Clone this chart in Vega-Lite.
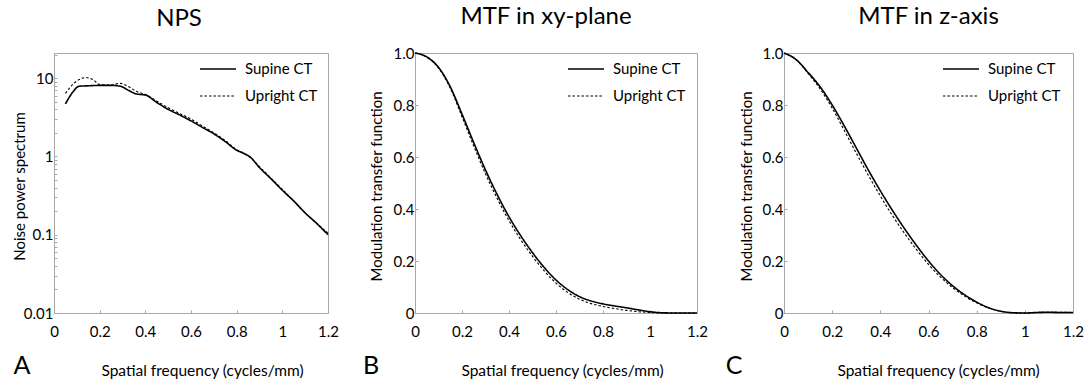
{
  "$schema": "https://vega.github.io/schema/vega-lite/v6.json",
  "padding": {"left": 11, "top": 4, "right": 5, "bottom": 0},
  "background": "white",
  "spacing": 87,
  "bounds": "flush",
  "datasets": {
    "nps": [
      {"f": 0.05, "v": 4.7, "ct": "Supine CT"}, {"f": 0.08, "v": 6.5, "ct": "Supine CT"}, {"f": 0.11, "v": 7.9, "ct": "Supine CT"}, {"f": 0.15, "v": 8.0, "ct": "Supine CT"}, {"f": 0.2, "v": 8.1, "ct": "Supine CT"}, {"f": 0.25, "v": 8.1, "ct": "Supine CT"}, {"f": 0.29, "v": 7.9, "ct": "Supine CT"}, {"f": 0.33, "v": 6.9, "ct": "Supine CT"}, {"f": 0.36, "v": 6.3, "ct": "Supine CT"}, {"f": 0.4, "v": 6.1, "ct": "Supine CT"}, {"f": 0.45, "v": 4.9, "ct": "Supine CT"}, {"f": 0.5, "v": 4.0, "ct": "Supine CT"}, {"f": 0.55, "v": 3.4, "ct": "Supine CT"}, {"f": 0.6, "v": 2.85, "ct": "Supine CT"}, {"f": 0.65, "v": 2.35, "ct": "Supine CT"}, {"f": 0.7, "v": 1.95, "ct": "Supine CT"}, {"f": 0.75, "v": 1.55, "ct": "Supine CT"}, {"f": 0.8, "v": 1.2, "ct": "Supine CT"}, {"f": 0.83, "v": 1.1, "ct": "Supine CT"}, {"f": 0.86, "v": 0.98, "ct": "Supine CT"}, {"f": 0.9, "v": 0.72, "ct": "Supine CT"}, {"f": 0.95, "v": 0.52, "ct": "Supine CT"}, {"f": 1.0, "v": 0.37, "ct": "Supine CT"}, {"f": 1.05, "v": 0.27, "ct": "Supine CT"}, {"f": 1.1, "v": 0.19, "ct": "Supine CT"}, {"f": 1.15, "v": 0.14, "ct": "Supine CT"}, {"f": 1.2, "v": 0.1, "ct": "Supine CT"},
      {"f": 0.05, "v": 6.4, "ct": "Upright CT"}, {"f": 0.08, "v": 8.2, "ct": "Upright CT"}, {"f": 0.11, "v": 9.6, "ct": "Upright CT"}, {"f": 0.14, "v": 10.2, "ct": "Upright CT"}, {"f": 0.17, "v": 9.6, "ct": "Upright CT"}, {"f": 0.2, "v": 8.3, "ct": "Upright CT"}, {"f": 0.25, "v": 8.2, "ct": "Upright CT"}, {"f": 0.29, "v": 8.6, "ct": "Upright CT"}, {"f": 0.32, "v": 8.0, "ct": "Upright CT"}, {"f": 0.36, "v": 6.8, "ct": "Upright CT"}, {"f": 0.4, "v": 6.2, "ct": "Upright CT"}, {"f": 0.45, "v": 5.1, "ct": "Upright CT"}, {"f": 0.5, "v": 4.2, "ct": "Upright CT"}, {"f": 0.55, "v": 3.55, "ct": "Upright CT"}, {"f": 0.6, "v": 3.0, "ct": "Upright CT"}, {"f": 0.65, "v": 2.45, "ct": "Upright CT"}, {"f": 0.7, "v": 2.0, "ct": "Upright CT"}, {"f": 0.75, "v": 1.6, "ct": "Upright CT"}, {"f": 0.8, "v": 1.22, "ct": "Upright CT"}, {"f": 0.83, "v": 1.1, "ct": "Upright CT"}, {"f": 0.86, "v": 0.97, "ct": "Upright CT"}, {"f": 0.9, "v": 0.74, "ct": "Upright CT"}, {"f": 0.95, "v": 0.53, "ct": "Upright CT"}, {"f": 1.0, "v": 0.38, "ct": "Upright CT"}, {"f": 1.05, "v": 0.27, "ct": "Upright CT"}, {"f": 1.1, "v": 0.19, "ct": "Upright CT"}, {"f": 1.15, "v": 0.14, "ct": "Upright CT"}, {"f": 1.2, "v": 0.105, "ct": "Upright CT"}
    ],
    "mtfxy": [
      {"f": 0, "v": 1.0, "ct": "Supine CT"}, {"f": 0.05, "v": 0.985, "ct": "Supine CT"}, {"f": 0.1, "v": 0.945, "ct": "Supine CT"}, {"f": 0.15, "v": 0.87, "ct": "Supine CT"}, {"f": 0.2, "v": 0.765, "ct": "Supine CT"}, {"f": 0.25, "v": 0.655, "ct": "Supine CT"}, {"f": 0.3, "v": 0.55, "ct": "Supine CT"}, {"f": 0.35, "v": 0.455, "ct": "Supine CT"}, {"f": 0.4, "v": 0.37, "ct": "Supine CT"}, {"f": 0.45, "v": 0.297, "ct": "Supine CT"}, {"f": 0.5, "v": 0.232, "ct": "Supine CT"}, {"f": 0.55, "v": 0.175, "ct": "Supine CT"}, {"f": 0.6, "v": 0.127, "ct": "Supine CT"}, {"f": 0.65, "v": 0.09, "ct": "Supine CT"}, {"f": 0.7, "v": 0.063, "ct": "Supine CT"}, {"f": 0.75, "v": 0.046, "ct": "Supine CT"}, {"f": 0.8, "v": 0.035, "ct": "Supine CT"}, {"f": 0.85, "v": 0.027, "ct": "Supine CT"}, {"f": 0.9, "v": 0.02, "ct": "Supine CT"}, {"f": 0.95, "v": 0.012, "ct": "Supine CT"}, {"f": 1.0, "v": 0.005, "ct": "Supine CT"}, {"f": 1.05, "v": 0.001, "ct": "Supine CT"}, {"f": 1.1, "v": 0.0, "ct": "Supine CT"}, {"f": 1.2, "v": 0.0, "ct": "Supine CT"},
      {"f": 0, "v": 1.0, "ct": "Upright CT"}, {"f": 0.05, "v": 0.984, "ct": "Upright CT"}, {"f": 0.1, "v": 0.942, "ct": "Upright CT"}, {"f": 0.15, "v": 0.865, "ct": "Upright CT"}, {"f": 0.2, "v": 0.755, "ct": "Upright CT"}, {"f": 0.25, "v": 0.642, "ct": "Upright CT"}, {"f": 0.3, "v": 0.535, "ct": "Upright CT"}, {"f": 0.35, "v": 0.44, "ct": "Upright CT"}, {"f": 0.4, "v": 0.355, "ct": "Upright CT"}, {"f": 0.45, "v": 0.282, "ct": "Upright CT"}, {"f": 0.5, "v": 0.218, "ct": "Upright CT"}, {"f": 0.55, "v": 0.162, "ct": "Upright CT"}, {"f": 0.6, "v": 0.115, "ct": "Upright CT"}, {"f": 0.65, "v": 0.079, "ct": "Upright CT"}, {"f": 0.7, "v": 0.053, "ct": "Upright CT"}, {"f": 0.75, "v": 0.036, "ct": "Upright CT"}, {"f": 0.8, "v": 0.025, "ct": "Upright CT"}, {"f": 0.85, "v": 0.017, "ct": "Upright CT"}, {"f": 0.9, "v": 0.01, "ct": "Upright CT"}, {"f": 0.95, "v": 0.005, "ct": "Upright CT"}, {"f": 1.0, "v": 0.002, "ct": "Upright CT"}, {"f": 1.05, "v": 0.0, "ct": "Upright CT"}, {"f": 1.2, "v": 0.0, "ct": "Upright CT"}
    ],
    "mtfz": [
      {"f": 0, "v": 1.0, "ct": "Supine CT"}, {"f": 0.05, "v": 0.975, "ct": "Supine CT"}, {"f": 0.1, "v": 0.925, "ct": "Supine CT"}, {"f": 0.15, "v": 0.87, "ct": "Supine CT"}, {"f": 0.2, "v": 0.8, "ct": "Supine CT"}, {"f": 0.25, "v": 0.72, "ct": "Supine CT"}, {"f": 0.3, "v": 0.635, "ct": "Supine CT"}, {"f": 0.35, "v": 0.55, "ct": "Supine CT"}, {"f": 0.4, "v": 0.47, "ct": "Supine CT"}, {"f": 0.45, "v": 0.395, "ct": "Supine CT"}, {"f": 0.5, "v": 0.325, "ct": "Supine CT"}, {"f": 0.55, "v": 0.26, "ct": "Supine CT"}, {"f": 0.6, "v": 0.2, "ct": "Supine CT"}, {"f": 0.65, "v": 0.148, "ct": "Supine CT"}, {"f": 0.7, "v": 0.105, "ct": "Supine CT"}, {"f": 0.75, "v": 0.07, "ct": "Supine CT"}, {"f": 0.8, "v": 0.042, "ct": "Supine CT"}, {"f": 0.85, "v": 0.02, "ct": "Supine CT"}, {"f": 0.9, "v": 0.007, "ct": "Supine CT"}, {"f": 0.95, "v": 0.001, "ct": "Supine CT"}, {"f": 1.0, "v": 0.0, "ct": "Supine CT"}, {"f": 1.05, "v": 0.002, "ct": "Supine CT"}, {"f": 1.1, "v": 0.003, "ct": "Supine CT"}, {"f": 1.15, "v": 0.002, "ct": "Supine CT"}, {"f": 1.2, "v": 0.002, "ct": "Supine CT"},
      {"f": 0, "v": 1.0, "ct": "Upright CT"}, {"f": 0.05, "v": 0.974, "ct": "Upright CT"}, {"f": 0.1, "v": 0.922, "ct": "Upright CT"}, {"f": 0.15, "v": 0.862, "ct": "Upright CT"}, {"f": 0.2, "v": 0.788, "ct": "Upright CT"}, {"f": 0.25, "v": 0.703, "ct": "Upright CT"}, {"f": 0.3, "v": 0.615, "ct": "Upright CT"}, {"f": 0.35, "v": 0.53, "ct": "Upright CT"}, {"f": 0.4, "v": 0.45, "ct": "Upright CT"}, {"f": 0.45, "v": 0.375, "ct": "Upright CT"}, {"f": 0.5, "v": 0.307, "ct": "Upright CT"}, {"f": 0.55, "v": 0.244, "ct": "Upright CT"}, {"f": 0.6, "v": 0.187, "ct": "Upright CT"}, {"f": 0.65, "v": 0.138, "ct": "Upright CT"}, {"f": 0.7, "v": 0.098, "ct": "Upright CT"}, {"f": 0.75, "v": 0.065, "ct": "Upright CT"}, {"f": 0.8, "v": 0.039, "ct": "Upright CT"}, {"f": 0.85, "v": 0.019, "ct": "Upright CT"}, {"f": 0.9, "v": 0.006, "ct": "Upright CT"}, {"f": 0.95, "v": 0.001, "ct": "Upright CT"}, {"f": 1.0, "v": 0.0, "ct": "Upright CT"}, {"f": 1.05, "v": 0.002, "ct": "Upright CT"}, {"f": 1.1, "v": 0.003, "ct": "Upright CT"}, {"f": 1.2, "v": 0.002, "ct": "Upright CT"}
    ]
  },
  "resolve": {"scale": {"strokeDash": "independent", "strokeWidth": "independent", "x": "independent", "y": "independent"}, "legend": {"strokeDash": "independent"}},
  "hconcat": [
    {
      "width": 274, "height": 260,
      "title": {"text": "NPS", "dx": -12},
      "layer": [
        {
          "data": {"name": "nps"},
          "mark": {"type": "line", "color": "black", "interpolate": "monotone"},
          "encoding": {
            "x": {"field": "f", "type": "quantitative", "scale": {"domain": [0, 1.2]},
              "axis": {"values": [0,0.05,0.1,0.15,0.2,0.25,0.3,0.35,0.4,0.45,0.5,0.55,0.6,0.65,0.7,0.75,0.8,0.85,0.9,0.95,1,1.05,1.1,1.15,1.2], "format": ".2~f", "labelExpr": "indexof(['0','0.2','0.4','0.6','0.8','1','1.2'], datum.label) >= 0 ? datum.label : ''", "title": "Spatial frequency (cycles/mm)", "titleX": 148, "titleY": 57}},
            "y": {"field": "v", "type": "quantitative", "scale": {"type": "log", "domain": [0.01, 21], "nice": false},
              "axis": {"values": [0.01,0.02,0.03,0.04,0.05,0.06,0.07,0.08,0.09,0.1,0.2,0.3,0.4,0.5,0.6,0.7,0.8,0.9,1,2,3,4,5,6,7,8,9,10,20], "labelExpr": "datum.value == 0.01 ? '0.01' : datum.value == 0.1 ? '0.1' : datum.value == 1 ? '1' : datum.value == 10 ? '10' : ''", "title": "Noise power spectrum", "titleX": -35, "titleY": 133}},
            "strokeDash": {"field": "ct", "type": "nominal", "scale": {"domain": ["Supine CT", "Upright CT"], "range": [[1, 0], [2.5, 2]]}, "legend": {"legendX": 145, "legendY": -3}},
            "strokeWidth": {"field": "ct", "type": "nominal", "scale": {"domain": ["Supine CT", "Upright CT"], "range": [1.6, 1.1]}, "legend": null}
          }
        },
        {
          "data": {"values": [{"panel": "A"}]},
          "mark": {"type": "text", "font": "Lato", "fontSize": 25, "dx": -32, "dy": 61, "baseline": "alphabetic", "align": "center", "color": "black"},
          "encoding": {"x": {"datum": 0, "type": "quantitative"}, "y": {"datum": 0.01, "type": "quantitative"}, "text": {"field": "panel"}}
        }
      ]
    },
    {
      "width": 282, "height": 260,
      "title": {"text": "MTF in xy-plane", "dx": -10},
      "layer": [
        {
          "data": {"name": "mtfxy"},
          "mark": {"type": "line", "color": "black", "interpolate": "monotone"},
          "encoding": {
            "x": {"field": "f", "type": "quantitative", "scale": {"domain": [0, 1.2]},
              "axis": {"values": [0,0.05,0.1,0.15,0.2,0.25,0.3,0.35,0.4,0.45,0.5,0.55,0.6,0.65,0.7,0.75,0.8,0.85,0.9,0.95,1,1.05,1.1,1.15,1.2], "format": ".2~f", "labelExpr": "indexof(['0','0.2','0.4','0.6','0.8','1','1.2'], datum.label) >= 0 ? datum.label : ''", "title": "Spatial frequency (cycles/mm)", "titleX": 147, "titleY": 57}},
            "y": {"field": "v", "type": "quantitative", "scale": {"domain": [0, 1]},
              "axis": {"values": [0,0.1,0.2,0.3,0.4,0.5,0.6,0.7,0.8,0.9,1], "labelExpr": "datum.value == 0 ? '0' : (round(datum.value * 10) % 2 == 0 ? format(datum.value, '.1f') : '')", "title": "Modulation transfer function", "titleX": -39, "titleY": 133}},
            "strokeDash": {"field": "ct", "type": "nominal", "scale": {"domain": ["Supine CT", "Upright CT"], "range": [[1, 0], [2.5, 2]]}, "legend": {"legendX": 152, "legendY": -3}},
            "strokeWidth": {"field": "ct", "type": "nominal", "scale": {"domain": ["Supine CT", "Upright CT"], "range": [1.6, 1.1]}, "legend": null}
          }
        },
        {
          "data": {"values": [{"panel": "B"}]},
          "mark": {"type": "text", "font": "Lato", "fontSize": 25, "dx": -44, "dy": 61, "baseline": "alphabetic", "align": "center", "color": "black"},
          "encoding": {"x": {"datum": 0, "type": "quantitative"}, "y": {"datum": 0, "type": "quantitative"}, "text": {"field": "panel"}}
        }
      ]
    },
    {
      "width": 289, "height": 260,
      "title": {"text": "MTF in z-axis", "dx": 0},
      "layer": [
        {
          "data": {"name": "mtfz"},
          "mark": {"type": "line", "color": "black", "interpolate": "monotone"},
          "encoding": {
            "x": {"field": "f", "type": "quantitative", "scale": {"domain": [0, 1.2]},
              "axis": {"values": [0,0.05,0.1,0.15,0.2,0.25,0.3,0.35,0.4,0.45,0.5,0.55,0.6,0.65,0.7,0.75,0.8,0.85,0.9,0.95,1,1.05,1.1,1.15,1.2], "format": ".2~f", "labelExpr": "indexof(['0','0.2','0.4','0.6','0.8','1','1.2'], datum.label) >= 0 ? datum.label : ''", "title": "Spatial frequency (cycles/mm)", "titleX": 154, "titleY": 57}},
            "y": {"field": "v", "type": "quantitative", "scale": {"domain": [0, 1]},
              "axis": {"values": [0,0.1,0.2,0.3,0.4,0.5,0.6,0.7,0.8,0.9,1], "labelExpr": "datum.value == 0 ? '0' : (round(datum.value * 10) % 2 == 0 ? format(datum.value, '.1f') : '')", "title": "Modulation transfer function", "titleX": -38, "titleY": 133}},
            "strokeDash": {"field": "ct", "type": "nominal", "scale": {"domain": ["Supine CT", "Upright CT"], "range": [[1, 0], [2.5, 2]]}, "legend": {"legendX": 158, "legendY": -3}},
            "strokeWidth": {"field": "ct", "type": "nominal", "scale": {"domain": ["Supine CT", "Upright CT"], "range": [1.6, 1.1]}, "legend": null}
          }
        },
        {
          "data": {"values": [{"panel": "C"}]},
          "mark": {"type": "text", "font": "Lato", "fontSize": 25, "dx": -50, "dy": 61, "baseline": "alphabetic", "align": "center", "color": "black"},
          "encoding": {"x": {"datum": 0, "type": "quantitative"}, "y": {"datum": 0, "type": "quantitative"}, "text": {"field": "panel"}}
        }
      ]
    }
  ],
  "config": {
    "font": "Lato",
    "view": {"stroke": "#a8a8a8", "strokeWidth": 1},
    "axis": {"domainColor": "#a8a8a8", "tickColor": "#a8a8a8", "tickSize": -3, "labelFontSize": 15, "labelColor": "black", "labelPadding": 14, "labelOverlap": false, "labelFlush": false, "titleFontSize": 15.5, "titleFontWeight": "normal", "titleColor": "black", "titleBaseline": "middle", "grid": false},
    "axisY": {"labelPadding": 4, "titleFontSize": 15},
    "title": {"fontSize": 24, "fontWeight": "normal", "offset": 17, "frame": "group", "color": "black"},
    "legend": {"orient": "none", "title": null, "labelFontSize": 15, "labelColor": "black", "symbolType": "stroke", "symbolSize": 1300, "symbolStrokeWidth": 2.5, "symbolStrokeColor": "black", "labelOffset": 8, "rowPadding": -8, "padding": 0}
  }
}
